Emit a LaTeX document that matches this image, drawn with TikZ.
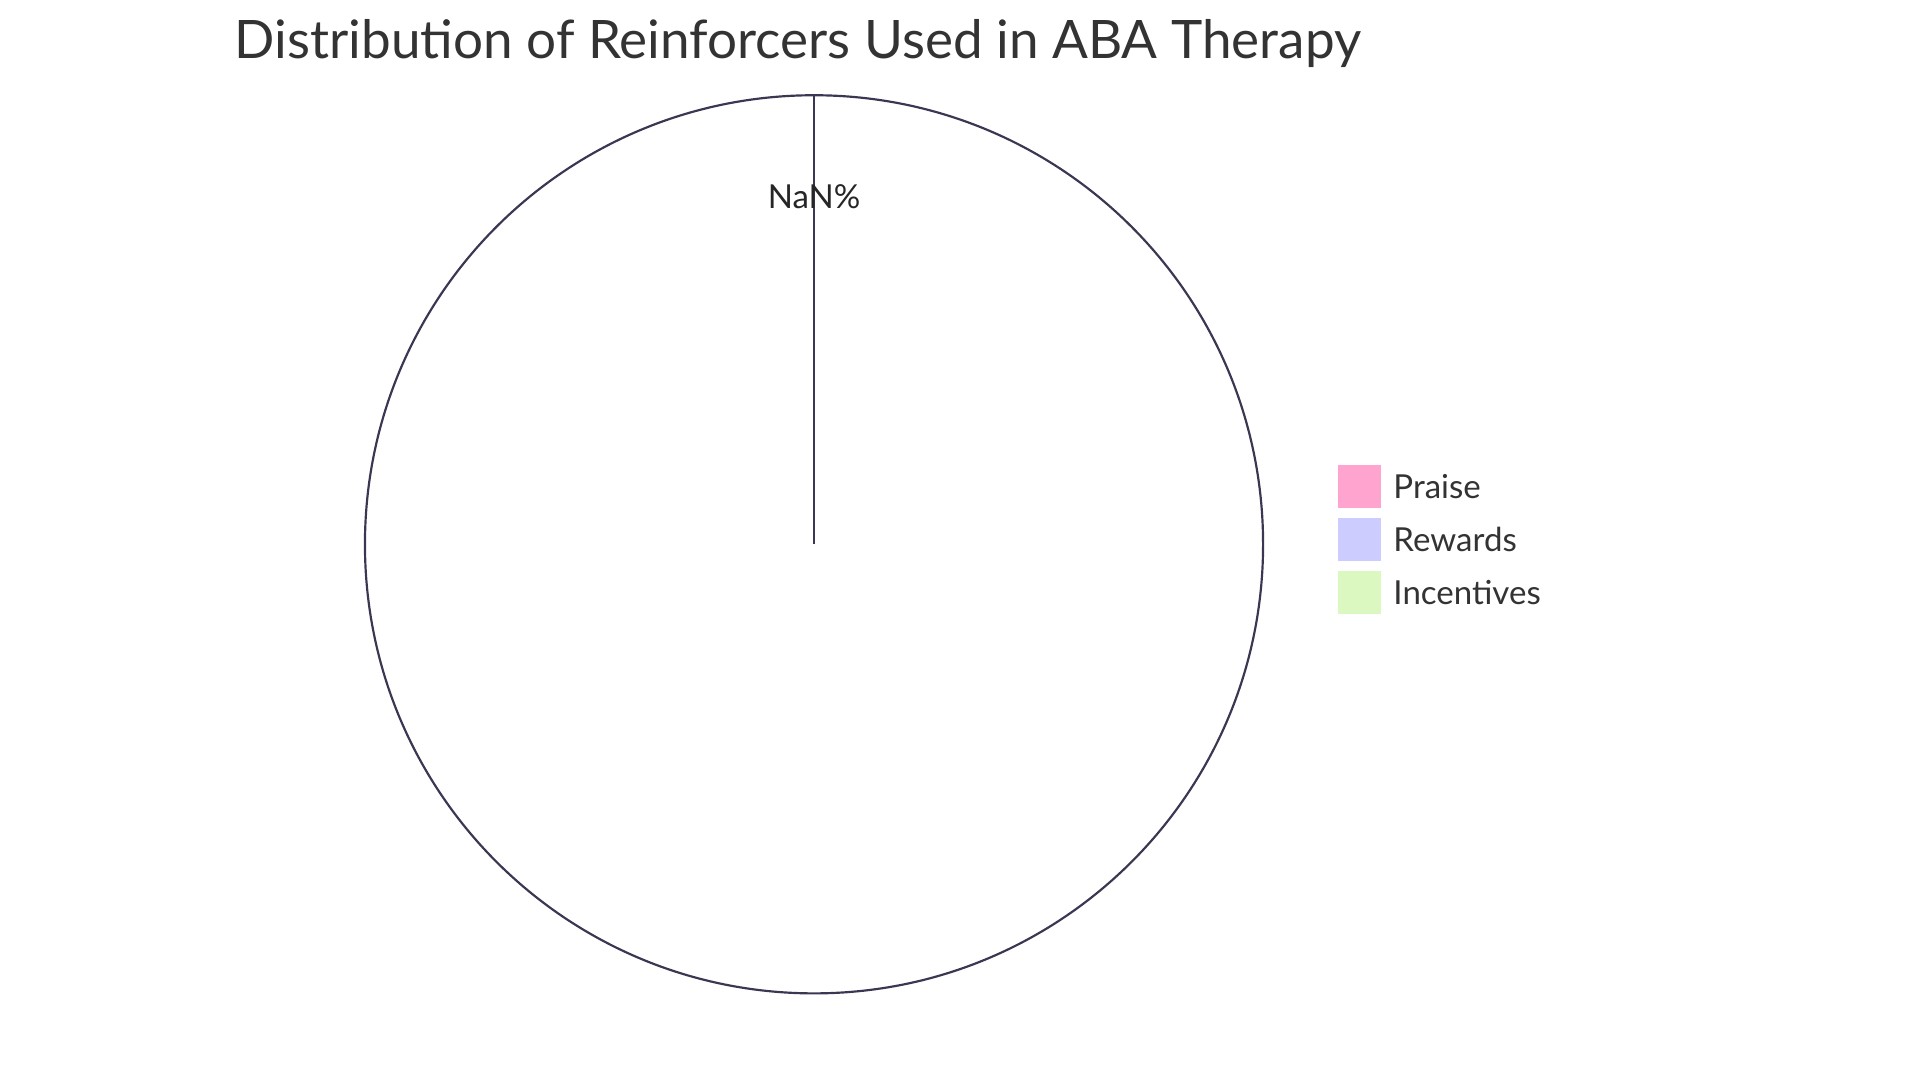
\documentclass[tikz,border=0pt]{standalone}
\usepackage{fontspec}
\setmainfont{Lato}
\usetikzlibrary{positioning}
\definecolor{pieline}{HTML}{3B3752}
\definecolor{praisecol}{HTML}{FFA4CF}
\definecolor{rewardscol}{HTML}{CCCCFF}
\definecolor{incentivescol}{HTML}{DAF8C0}
\tikzstyle{legendbox}=[draw=white,minimum size=0.36cm,inner sep=0pt]
\tikzstyle{legendtext}=[font=\fontsize{7.6}{9}\selectfont,text=black!80,anchor=west,inner sep=0pt]
\begin{document}
\begin{tikzpicture}[x=1cm,y=-1cm]
    \useasboundingbox (0,0) rectangle (15.52,8.73);

    \node[anchor=west, inner sep=0pt, font=\fontsize{12.2}{14}\selectfont, text=black!80] (title) at (1.89,0.35) {Distribution of Reinforcers Used in ABA Therapy};

    \coordinate (center) at (6.58,4.40);
    \coordinate (top) at (6.58,0.77);
    \draw[pieline, line width=0.5pt] (center) circle (3.63);
    \draw[pieline, line width=0.5pt] (center) -- (top);
    \node[font=\fontsize{7.6}{9}\selectfont, text=black!85] (nan) at (6.58,1.59) {NaN\%};

    \foreach \y/\name/\col in {3.93/Praise/praisecol, 4.36/Rewards/rewardscol, 4.79/Incentives/incentivescol}
    {
        \node[legendbox, fill=\col] (box\name) at (10.99,\y) {};
        \node[legendtext, right=0.08cm of box\name] (lbl\name) {\name};
    }

\end{tikzpicture}
\end{document}
